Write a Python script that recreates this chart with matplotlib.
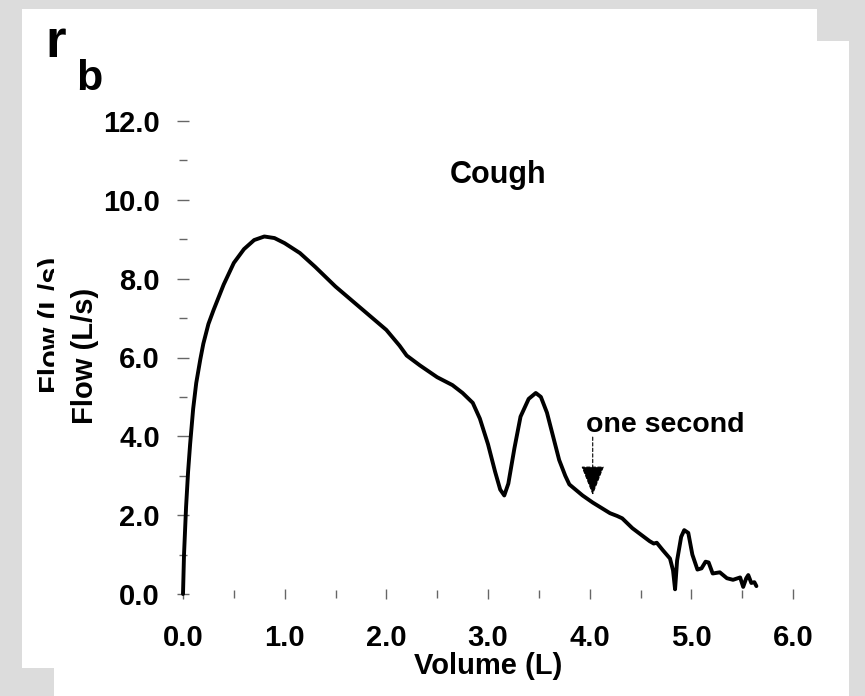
import matplotlib
matplotlib.use("Agg")
import matplotlib.pyplot as plt
from matplotlib.patches import Rectangle
from matplotlib.transforms import Bbox, TransformedBbox
from matplotlib.ticker import MultipleLocator, FormatStrFormatter

# cough flow-volume curve
volume = [0.0, 0.005, 0.01, 0.03, 0.05, 0.07, 0.1, 0.13, 0.17, 0.2, 0.25, 0.3,
          0.4, 0.5, 0.6, 0.7, 0.8, 0.9, 1.0, 1.15, 1.3, 1.5, 1.75, 2.0, 2.13,
          2.2, 2.33, 2.5, 2.65, 2.75, 2.85, 2.92, 3.0, 3.07, 3.12, 3.16, 3.2,
          3.26, 3.32, 3.4, 3.47, 3.52, 3.58, 3.64, 3.7, 3.76, 3.8, 3.93, 4.03,
          4.2, 4.27, 4.32, 4.42, 4.59, 4.63, 4.66, 4.72, 4.79, 4.82, 4.84, 4.86,
          4.9, 4.93, 4.97, 5.01, 5.06, 5.1, 5.14, 5.17, 5.21, 5.28, 5.35, 5.41,
          5.48, 5.51, 5.54, 5.56, 5.59, 5.62, 5.64]
flow = [0.0, 0.5, 1.0, 2.2, 3.1, 3.8, 4.7, 5.35, 5.95, 6.35, 6.85, 7.2,
        7.85, 8.4, 8.75, 8.98, 9.07, 9.03, 8.9, 8.65, 8.3, 7.8, 7.25, 6.7, 6.3,
        6.05, 5.8, 5.5, 5.3, 5.1, 4.85, 4.45, 3.8, 3.1, 2.65, 2.5, 2.8,
        3.7, 4.5, 4.95, 5.1, 5.0, 4.6, 4.0, 3.4, 3.0, 2.78, 2.5, 2.32,
        2.05, 1.98, 1.92, 1.67, 1.34, 1.28, 1.3, 1.11, 0.9, 0.6, 0.12, 0.85,
        1.45, 1.62, 1.55, 1.0, 0.62, 0.65, 0.82, 0.8, 0.52, 0.55, 0.4, 0.36,
        0.42, 0.18, 0.4, 0.48, 0.28, 0.3, 0.2]

x_ticks = [0.0, 1.0, 2.0, 3.0, 4.0, 5.0, 6.0]
y_ticks = [0.0, 2.0, 4.0, 6.0, 8.0, 10.0, 12.0]
marker_vol = 4.03
marker_top, marker_tip = 3.98, 2.51

W, H = 865, 696
FONT = "Liberation Sans"

fig = plt.figure(figsize=(W / 100, H / 100), dpi=100)
fig.patch.set_facecolor("#dcdcdc")


def px_box(x0, y0, x1, y1):
    # image pixel box (top-left origin) -> figure fraction rectangle
    return (x0 / W, 1 - y1 / H, (x1 - x0) / W, (y1 - y0) / H)


for box in [px_box(22, 9, 817, 668), px_box(54, 41, 849, 696)]:
    fig.patches.append(Rectangle(box[:2], box[2], box[3], transform=fig.transFigure,
                                 facecolor="white", edgecolor="none", zorder=-10))

# leftovers of the panel underneath
ghost = fig.text(52 / W, 1 - 325 / H, "Flow (L/s)", rotation=90, ha="center", va="center",
                 fontsize=21, fontweight="bold", family=FONT)
ghost.set_clip_box(TransformedBbox(Bbox.from_extents(0, 0, 54 / W, 1), fig.transFigure))
fig.text(56 / W, 1 - 57 / H, "r", ha="center", va="baseline", fontsize=38,
         fontweight="bold", family=FONT)
fig.text(89 / W, 1 - 90 / H, "b", ha="center", va="baseline", fontsize=31,
         fontweight="bold", family=FONT)

ax = fig.add_axes([183 / W, 1 - 594 / H, 610 / W, 473 / H])
ax.set_zorder(5)
ax.set_facecolor("none")
ax.plot(volume, flow, color="black", lw=2.8, clip_on=False,
        solid_joinstyle="round", solid_capstyle="round")

ax.set_xlim(0, 6)
ax.set_ylim(0, 12)
ax.set_xticks(x_ticks)
ax.set_yticks(y_ticks)
ax.xaxis.set_minor_locator(MultipleLocator(0.5))
ax.yaxis.set_minor_locator(MultipleLocator(1.0))
ax.xaxis.set_major_formatter(FormatStrFormatter("%.1f"))
ax.yaxis.set_major_formatter(FormatStrFormatter("%.1f"))
for s in ax.spines.values():
    s.set_visible(False)

ax.tick_params(axis="both", which="both", direction="inout", color="#666666", width=1)
ax.tick_params(axis="y", which="major", length=8.6, pad=12.3)
ax.tick_params(axis="x", which="major", length=7.9, pad=17.5)
ax.tick_params(axis="both", which="minor", length=5.5)
for lab in ax.get_xticklabels() + ax.get_yticklabels():
    lab.set_fontsize(21)
    lab.set_fontweight("bold")
    lab.set_family(FONT)

ax.set_xlabel("Volume (L)", fontsize=21, fontweight="bold", family=FONT)
ax.xaxis.label.set_va("center")
ax.xaxis.set_label_coords(0.5, (594 - 666) / 473)
ax.set_ylabel("Flow (L/s)", fontsize=21, fontweight="bold", family=FONT)
ax.yaxis.label.set_va("center")
ax.yaxis.set_label_coords((85 - 183) / 610, 0.503)

ax.text(3.1, 10.43, "Cough", ha="center", va="baseline", fontsize=22,
        fontweight="bold", family=FONT)
ax.text(4.74, 4.11, "one second", ha="center", va="baseline", fontsize=20.5,
        fontweight="bold", family=FONT)
ax.annotate("", xy=(marker_vol, marker_tip), xytext=(marker_vol, marker_top),
            arrowprops=dict(arrowstyle="-|>,head_length=1.9,head_width=0.75",
                            color="black", lw=0.8, linestyle=(0, (3, 2)),
                            shrinkA=0, shrinkB=0, mutation_scale=10))

fig.savefig("out.png", dpi=100, facecolor=fig.get_facecolor())
